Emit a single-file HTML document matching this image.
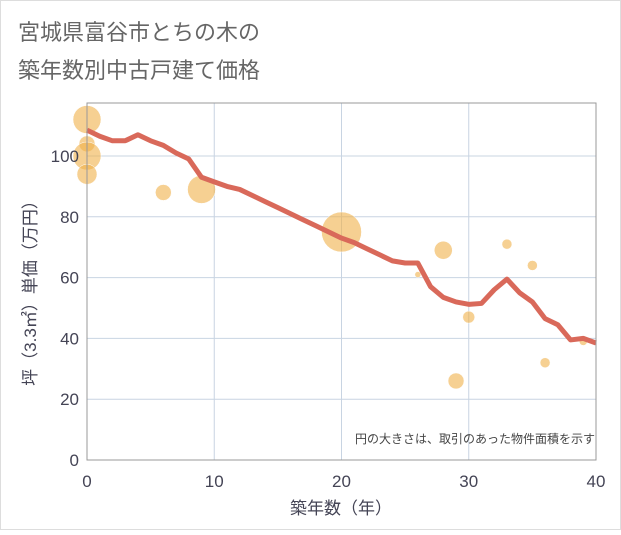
<!DOCTYPE html>
<html><head><meta charset="utf-8"><style>
body{margin:0;background:#fff}
svg text{font-family:"Liberation Sans","Noto Sans CJK JP",sans-serif}
</style></head><body>
<svg width="621" height="530" xmlns="http://www.w3.org/2000/svg">
<rect x="0.5" y="0.5" width="620" height="529" fill="#fff" stroke="#ddd"/>
<text x="18" y="40" font-size="22" fill="#666">宮城県富谷市とちの木の</text>
<text x="18" y="78" font-size="22" fill="#666">築年数別中古戸建て価格</text>
<g id="grid"></g>
<g id="bubbles"></g>
<g id="line"></g>
<g id="axes"></g>
<text x="595" y="443" font-size="12" fill="#444" text-anchor="end">円の大きさは、取引のあった物件面積を示す</text>
<text x="341" y="514" font-size="17" fill="#445" text-anchor="middle">築年数（年）</text>
<text transform="translate(36,289) rotate(-90)" font-size="17" fill="#445" text-anchor="middle">坪（3.3㎡）単価（万円）</text>
</svg>
<script>
const xTicks=[0,10,20,30,40];
const yTicks=[0,20,40,60,80,100];
const lineX=[0,1,2,3,4,5,6,7,8,9,10,11,12,13,14,15,16,17,18,19,20,21,22,23,24,25,26,27,28,29,30,31,32,33,34,35,36,37,38,39,40];
const lineY=[108.5,106.5,105,105,107,105,103.5,101,99,93,91.5,90,89,87,85,83,81,79,77,75,73,71.5,69.5,67.5,65.5,64.8,64.8,57,53.5,52,51.2,51.5,56,59.5,55,52,46.5,44.5,39.5,40,38.5];
const bubX=[0,0,0,0,6,9,20,26,28,29,30,33,35,36,39];
const bubY=[112,104,100,94,88,89,75,61,69,26,47,71,64,32,39];
const bubR=[14,8,14,10,8,14,20,3,9,8,6,5,5,5,4];
const L=87,R=596,T=103,B=460;
const sx=v=>L+(R-L)*v/40, sy=v=>B-v*3.04;
const NS='http://www.w3.org/2000/svg';
function mk(t,a,p){const e=document.createElementNS(NS,t);for(const k in a)e.setAttribute(k,a[k]);p.appendChild(e);return e;}
const g=document.getElementById('grid'),ax=document.getElementById('axes');
xTicks.forEach(v=>{const l=mk('line',{x1:sx(v),x2:sx(v),y1:T,y2:B,stroke:'#c8d4e2','stroke-width':1},g);

const t=mk('text',{x:sx(v),y:B+27,'font-size':17,fill:'#445','text-anchor':'middle'},ax);t.textContent=v;
});
yTicks.forEach(v=>{const l=mk('line',{x1:L,x2:R,y1:sy(v),y2:sy(v),stroke:'#c8d4e2','stroke-width':1},g);

const t=mk('text',{x:L-8,y:sy(v)+6,'font-size':17,fill:'#445','text-anchor':'end'},ax);t.textContent=v;
});
const fr=mk('rect',{x:L,y:T,width:R-L,height:B-T,fill:'none',stroke:'#999','stroke-width':1},ax);

const bg=document.getElementById('bubbles');
bubX.forEach((x,i)=>{const c=mk('circle',{cx:sx(x),cy:sy(bubY[i]),r:bubR[i],fill:'#f0b04a','fill-opacity':0.6,stroke:'#fff','stroke-width':0.5},bg);
});
const p=mk('polyline',{points:lineX.map((x,i)=>sx(x)+','+sy(lineY[i])).join(' '),fill:'none',stroke:'#d9695a','stroke-width':5,'stroke-linejoin':'round'},document.getElementById('line'));

</script>
</body></html>
